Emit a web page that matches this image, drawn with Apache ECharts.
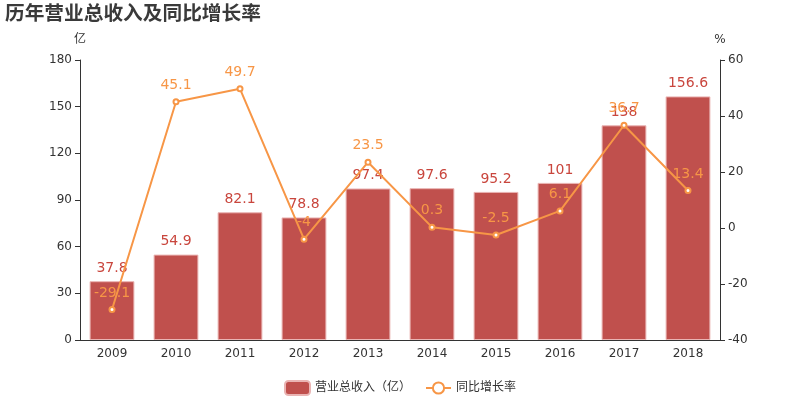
<!DOCTYPE html>
<html>
<head>
<meta charset="utf-8">
<script src="https://cdn.jsdelivr.net/npm/echarts@6/dist/echarts.min.js"></script>
<style>
  html, body { margin: 0; padding: 0; background: #fff; }
  #main { width: 800px; height: 400px; }
</style>
</head>
<body>
<div id="main"></div>
<script>
// 年份
var years = ["2009", "2010", "2011", "2012", "2013", "2014", "2015", "2016", "2017", "2018"];
// 营业总收入（亿）
var revenue = [37.8, 54.9, 82.1, 78.8, 97.4, 97.6, 95.2, 101, 138, 156.6];
// 同比增长率（%）
var growth = [-29.1, 45.1, 49.7, -4, 23.5, 0.3, -2.5, 6.1, 36.7, 13.4];

var chart = echarts.init(document.getElementById("main"));
var font = "'DejaVu Sans', 'Noto Sans CJK SC', sans-serif";

var option = {
  animation: false,
  textStyle: { fontFamily: font },
  title: {
    text: "历年营业总收入及同比增长率",
    left: 0,
    top: 0,
    textStyle: { fontSize: 19.7, fontWeight: "bold", color: "#3a3a3a", fontFamily: font }
  },
  legend: {
    bottom: 0,
    left: "center",
    padding: [5, 5, 4, 5],
    itemWidth: 25,
    itemHeight: 14,
    itemGap: 14,
    textStyle: { fontSize: 12, color: "#333" },
    data: ["营业总收入（亿）", "同比增长率"]
  },
  grid: { left: 80, right: 80, top: 60, bottom: 60 },
  xAxis: {
    type: "category",
    data: years,
    axisLine: { lineStyle: { color: "#333" } },
    axisLabel: { color: "#333", fontSize: 12 }
  },
  yAxis: [
    {
      type: "value",
      name: "亿",
      nameGap: 14,
      nameTextStyle: { color: "#333", fontSize: 12 },
      min: 0, max: 180, interval: 30,
      splitLine: { show: false },
      axisLine: { show: true, lineStyle: { color: "#333" } },
      axisTick: { show: true },
      axisLabel: { color: "#333", fontSize: 12 }
    },
    {
      type: "value",
      name: "%",
      nameGap: 14,
      nameTextStyle: { color: "#333", fontSize: 12 },
      min: -40, max: 60, interval: 20,
      splitLine: { show: false },
      axisLine: { show: true, lineStyle: { color: "#333" } },
      axisTick: { show: true },
      axisLabel: { color: "#333", fontSize: 12 }
    }
  ],
  series: [
    {
      name: "营业总收入（亿）",
      type: "bar",
      barWidth: "70%",
      data: revenue,
      itemStyle: { color: "#c0504d", borderColor: "#eab4b3", borderWidth: 1 },
      label: { show: true, position: "top", color: "#c9463d", fontSize: 14, distance: 6 }
    },
    {
      name: "同比增长率",
      type: "line",
      yAxisIndex: 1,
      data: growth,
      symbol: "emptyCircle",
      symbolSize: 5,
      lineStyle: { color: "#f79646", width: 2 },
      itemStyle: { color: "#f79646", borderColor: "#f79646" },
      label: { show: true, position: "top", color: "#f79646", fontSize: 14, distance: 6 },
      z: 3
    }
  ]
};
chart.setOption(option);
</script>
</body>
</html>
